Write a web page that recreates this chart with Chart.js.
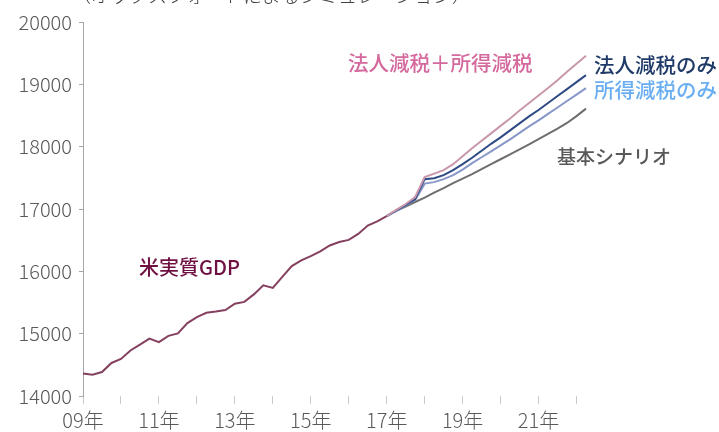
<!DOCTYPE html>
<html>
<head>
<meta charset="utf-8">
<script src="https://cdn.jsdelivr.net/npm/chart.js@4/dist/chart.umd.min.js"></script>
<style>
  html, body { margin: 0; padding: 0; background: #fff; }
  #wrap { position: relative; width: 719px; height: 432px; }
</style>
</head>
<body>
<div id="wrap"><canvas id="gdpChart" width="719" height="432"></canvas></div>
<script>
// quarters 2009Q1 .. 2022Q2
const quarters = [];
for (let y = 2009; y <= 2022; y++) {
  for (let q = 1; q <= 4; q++) {
    if (y === 2022 && q > 2) break;
    quarters.push(y + 'Q' + q);
  }
}

// actual US real GDP, 2009Q1 .. 2017Q1
const gdpActual = [14360, 14340, 14385, 14530, 14595, 14730, 14825, 14920, 14865, 14965,
  15005, 15170, 15265, 15335, 15355, 15380, 15480, 15510, 15630, 15775, 15735, 15910,
  16085, 16175, 16245, 16320, 16415, 16470, 16505, 16600, 16735, 16800, 16885];

// scenarios, 2017Q1 .. 2022Q2
const bothCuts = [16885, 16985, 17080, 17192, 17511, 17567, 17623, 17719, 17846, 17974, 18094,
  18213, 18333, 18453, 18580, 18700, 18820, 18940, 19067, 19203, 19331, 19458];
const corpOnly = [16885, 16977, 17064, 17160, 17479, 17495, 17543, 17623, 17719, 17822, 17934,
  18046, 18150, 18261, 18373, 18485, 18589, 18700, 18812, 18924, 19035, 19147];
const incomeOnly = [16885, 16969, 17056, 17144, 17407, 17431, 17479, 17543, 17631, 17735, 17830,
  17926, 18022, 18118, 18221, 18325, 18421, 18525, 18628, 18732, 18836, 18940];
const baseline = [16885, 16969, 17040, 17112, 17184, 17264, 17336, 17415, 17487, 17559, 17639,
  17719, 17798, 17878, 17958, 18038, 18120, 18205, 18290, 18380, 18490, 18610];

const yTicks = [14000, 15000, 16000, 17000, 18000, 19000, 20000];

const startIdx = gdpActual.length - 1;
const pad = arr => quarters.map((_, i) => i < startIdx ? null : arr[i - startIdx]);

const font = '"Noto Sans CJK JP", "Noto Sans", sans-serif';

const labelsPlugin = {
  id: 'seriesLabels',
  afterDraw(chart) {
    const ctx = chart.ctx;
    ctx.save();
    ctx.textAlign = 'left';
    ctx.textBaseline = 'alphabetic';
    ctx.fillStyle = '#404040';
    ctx.font = '300 19px ' + font;
    ctx.fillText('（オックスフォードによるシミュレーション）', 72, 3);
    ctx.textBaseline = 'middle';
    const items = [
      ['米実質GDP', 139, 267, 20, '#6E1042'],
      ['法人減税＋所得減税', 348, 63, 20.5, '#D4699D'],
      ['法人減税のみ', 594, 65, 20.5, '#1F3A68'],
      ['所得減税のみ', 594, 90, 20.5, '#6AAEF2'],
      ['基本シナリオ', 557, 157, 19, '#595959']
    ];
    items.forEach(([t, x, y, s, c]) => {
      ctx.font = '500 ' + s + 'px ' + font;
      ctx.fillStyle = c;
      ctx.fillText(t, x, y);
    });
    ctx.restore();
  }
};

const line = (data, color) => ({
  data, borderColor: color, borderWidth: 2, pointRadius: 0, tension: 0, spanGaps: false, fill: false
});

new Chart(document.getElementById('gdpChart'), {
  type: 'line',
  data: {
    labels: quarters,
    datasets: [
      line(quarters.map((_, i) => i < gdpActual.length ? gdpActual[i] : null), '#85405f'),
      line(pad(bothCuts), '#C897AB'),
      line(pad(corpOnly), '#2E4A85'),
      line(pad(incomeOnly), '#8797C8'),
      line(pad(baseline), '#6E6E6E')
    ]
  },
  options: {
    responsive: false,
    animation: false,
    layout: { padding: { top: 22, right: 133, left: 0, bottom: 0 } },
    plugins: { legend: { display: false }, tooltip: { enabled: false } },
    scales: {
      x: {
        offset: false,
        border: { display: false },
        grid: {
          drawOnChartArea: false, offset: false, tickLength: 8,
          color: ctx => ctx.index % 4 === 0 ? '#c8c8c8' : 'rgba(0,0,0,0)'
        },
        ticks: {
          autoSkip: false, maxRotation: 0, padding: 4, color: '#595959',
          font: { family: font, size: 20, weight: '300' },
          callback: (v, i) => i % 8 === 0 ? quarters[i].slice(2, 4) + '年' : ''
        },
        afterFit: s => { s.height = 36; }
      },
      y: {
        min: 14000, max: 20000,
        border: { display: true, color: '#a6a6a6', width: 1 },
        grid: { drawOnChartArea: false, tickLength: 4, color: '#a6a6a6' },
        afterBuildTicks: s => { s.ticks = yTicks.map(v => ({ value: v })); },
        ticks: {
          padding: 7, color: '#595959',
          font: { family: font, size: 20, weight: '300' },
          callback: v => String(v)
        },
        afterFit: s => { s.width = 83; }
      }
    }
  },
  plugins: [labelsPlugin]
});
</script>
</body>
</html>
